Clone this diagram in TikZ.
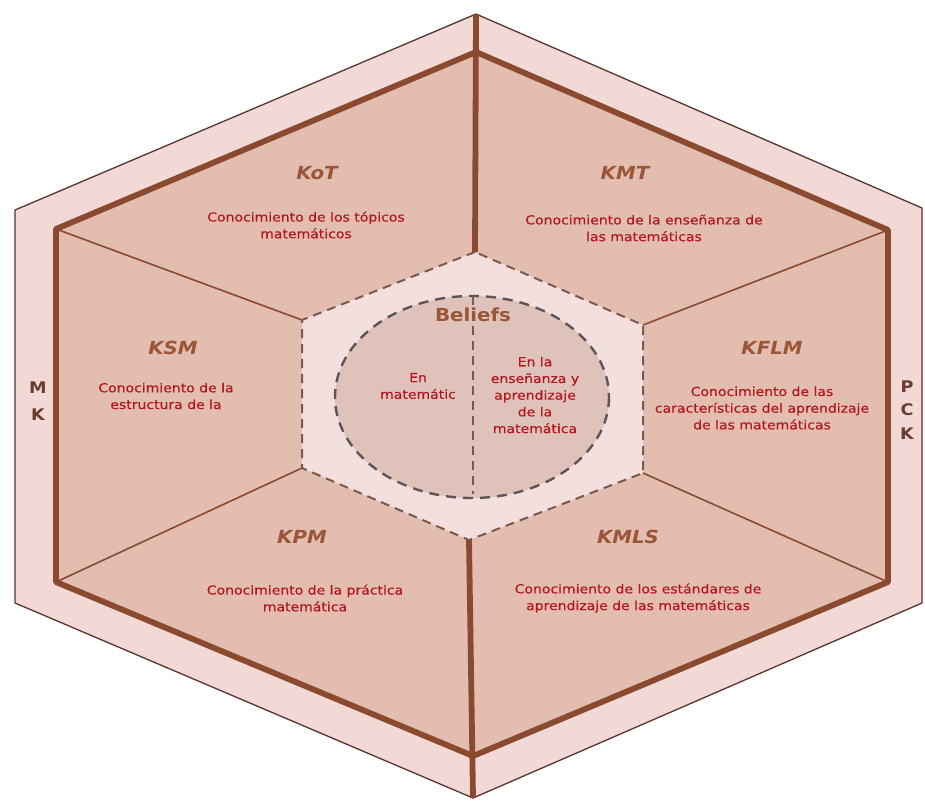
\documentclass[tikz,border=0pt]{standalone}
\usepackage{fontspec}
\setmainfont{DejaVu Sans}
\newfontfamily\descfont[FakeStretch=1.12,FakeBold=0.4]{DejaVu Sans}
\newfontfamily\headfont[FakeStretch=1.1]{DejaVu Sans}
\definecolor{bandc}{HTML}{F2D9D6}
\definecolor{sectc}{HTML}{E3BDB0}
\definecolor{centc}{HTML}{F3E0DE}
\definecolor{ellc}{HTML}{DFC3BA}
\definecolor{brownc}{HTML}{8A4A30}
\definecolor{outlinec}{HTML}{55352F}
\definecolor{dashc}{HTML}{7A5A4E}
\definecolor{ellline}{HTML}{5E5656}
\definecolor{headc}{HTML}{9A5636}
\definecolor{descc}{HTML}{B3161F}
\definecolor{mkc}{HTML}{6B3D2E}
\begin{document}
\begin{tikzpicture}[x=1pt,y=-1pt,
  band/.style={fill=bandc, draw=outlinec, line width=1.3pt, line join=round},
  thickline/.style={draw=brownc, line width=5.8pt, line join=round},
  radial/.style={draw=brownc, line width=1.6pt},
  centdash/.style={draw=dashc, line width=2pt, dash pattern=on 9pt off 6pt},
  elldash/.style={draw=ellline, line width=2.4pt, dash pattern=on 10pt off 7pt},
  heading/.style={font=\headfont\bfseries\itshape\fontsize{18}{20}\selectfont, text=headc, inner sep=0pt},
  desc/.style={font=\descfont\fontsize{12.5}{16.7}\selectfont, text=descc, align=center, inner sep=0pt},
  sidelbl/.style={font=\headfont\bfseries\fontsize{16}{27}\selectfont, text=mkc, align=center, inner sep=0pt}
]
\useasboundingbox (0,0) rectangle (925,801);
% outer hexagon
\coordinate (o1) at (476,14);
\coordinate (o2) at (15,210);
\coordinate (o3) at (15,603);
\coordinate (o4) at (473,798);
\coordinate (o5) at (922,603);
\coordinate (o6) at (922,208);
% inner hexagon
\coordinate (i1) at (476,52);
\coordinate (i2) at (56,229);
\coordinate (i3) at (56,582);
\coordinate (i4) at (473,756);
\coordinate (i5) at (888,582);
\coordinate (i6) at (888,230);
% centre hexagon
\coordinate (c1) at (475,252);
\coordinate (c2) at (302,320);
\coordinate (c3) at (302,468);
\coordinate (c4) at (469,540);
\coordinate (c5) at (643,473);
\coordinate (c6) at (643,325);
\coordinate (ec) at (472,397);
\coordinate (et) at (473,296);
\coordinate (eb) at (473,494);

\path[band] (o1) -- (o2) -- (o3) -- (o4) -- (o5) -- (o6) -- cycle;
\path[fill=sectc] (i1) -- (i2) -- (i3) -- (i4) -- (i5) -- (i6) -- cycle;
\path[fill=centc] (c1) -- (c2) -- (c3) -- (c4) -- (c5) -- (c6) -- cycle;
% radial separators
\draw[radial] (c2) -- (i2);
\draw[radial] (c3) -- (i3);
\draw[radial] (c6) -- (i6);
\draw[radial] (c5) -- (i5);
\draw[centdash] (c1) -- (c2) -- (c3) -- (c4) -- (c5) -- (c6) -- cycle;
% beliefs ellipse
\path[fill=ellc] (ec) ellipse [x radius=137, y radius=101];
\draw[elldash] (ec) ellipse [x radius=137, y radius=101];
\draw[draw=dashc, line width=1.8pt, dash pattern=on 9pt off 6pt] (et) -- (eb);
% thick lines
\draw[thickline] (i1) -- (i2) -- (i3) -- (i4) -- (i5) -- (i6) -- cycle;
\draw[thickline] (o1) -- (c1);
\draw[thickline] (c4) -- (o4);

% labels
\node[heading] (kot) at (317,173) {KoT};
\node[desc] (kotd) at (306,225) {Conocimiento de los tópicos\\matemáticos};
\node[heading] (kmt) at (625,173) {KMT};
\node[desc] (kmtd) at (644,228) {Conocimiento de la enseñanza de\\las matemáticas};
\node[heading] (ksm) at (173,348) {KSM};
\node[desc] (ksmd) at (166,396) {Conocimiento de la\\estructura de la};
\node[heading] (kflm) at (772,348) {KFLM};
\node[desc] (kflmd) at (762,408) {Conocimiento de las\\características del aprendizaje\\de las matemáticas};
\node[heading] (kpm) at (302,537) {KPM};
\node[desc] (kpmd) at (305,598) {Conocimiento de la práctica\\matemática};
\node[heading] (kmls) at (628,537) {KMLS};
\node[desc] (kmlsd) at (638,598) {Conocimiento de los estándares de\\aprendizaje de las matemáticas};
\node[font=\headfont\bfseries\fontsize{18}{20}\selectfont, text=headc, inner sep=0pt] (bel) at (473,315) {Beliefs};
\node[desc] (enm) at (418,386) {En\\matemátic};
\node[desc] (ene) at (535,395) {En la\\enseñanza y\\aprendizaje\\de la\\matemática};
\node[sidelbl] (mk) at (38,401) {M\\K};
\node[sidelbl, font=\headfont\bfseries\fontsize{16}{23.5}\selectfont] (pck) at (907,410) {P\\C\\K};
\end{tikzpicture}
\end{document}
